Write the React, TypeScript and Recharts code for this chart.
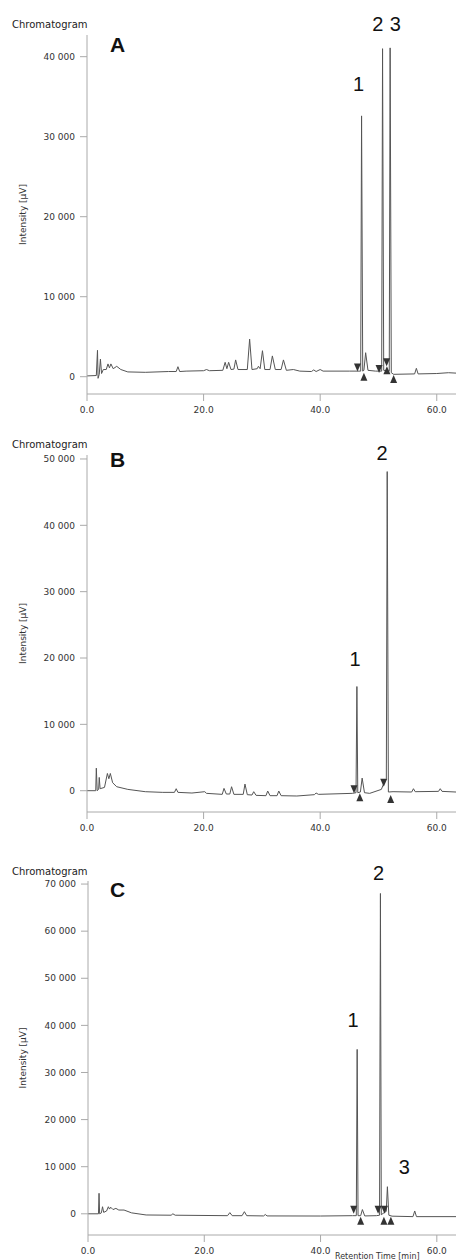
import React from "react";
import { ComposedChart, Line, Scatter, XAxis, YAxis, ReferenceDot } from "recharts";

type Pt = { t: number; v: number };
const pts = (rows: number[][]): Pt[] => rows.map(([t, v]) => ({ t, v }));

// retention time axis
const timeTicks = [0, 20, 40, 60];
const timeMax = 63.3;

// ---- panel A
const ticksA = [0, 10000, 20000, 30000, 40000];
const traceA = pts([
  [0, 100], [1.6, 150], [1.8, 3300], [1.9, -200], [2.1, 300], [2.3, 2200], [2.5, 400],
  [2.8, 900], [3.3, 900], [3.6, 1600], [3.85, 1100], [4.1, 1600], [4.5, 1000], [5.1, 1300],
  [5.8, 900], [7, 600], [10, 550], [14, 650], [15.3, 650], [15.6, 1250], [15.9, 650],
  [17, 700], [20, 750], [20.5, 900], [21, 750], [23.3, 800], [23.7, 1800], [24.0, 1000],
  [24.3, 1800], [24.7, 900], [25.2, 950], [25.5, 2100], [25.9, 900], [27.5, 900], [27.9, 4700],
  [28.3, 900], [29.2, 1000], [29.4, 1300], [29.7, 1000], [30.1, 3250], [30.5, 900], [31.4, 900],
  [31.8, 2600], [32.3, 900], [33.3, 900], [33.7, 2100], [34.2, 800], [35.4, 900], [36.5, 700],
  [38.5, 650], [38.9, 850], [39.3, 650], [40.0, 900], [40.5, 700], [45, 700], [46.95, 700],
  [47.1, 32600], [47.3, 700], [47.5, 800], [47.8, 3000], [48.2, 800], [49.5, 700], [50.55, 700],
  [50.7, 41000], [50.9, 800], [51.85, 700], [52.0, 41100], [52.2, 500], [52.6, 300],
  [56.2, 350], [56.5, 1050], [56.8, 350], [60, 400], [62, 500], [63.3, 450],
]);
const startsA = pts([[46.4, 650], [50.1, 460], [51.4, 1300]]);
const endsA = pts([[47.5, 500], [51.45, 1300], [52.6, 200]]);
const labelsA = [
  { t: 46.6, v: 36600, text: "1" },
  { t: 49.9, v: 44100, text: "2" },
  { t: 52.9, v: 44100, text: "3" },
];

// ---- panel B
const ticksB = [0, 10000, 20000, 30000, 40000, 50000];
const traceB = pts([
  [0, 0], [1.5, 0], [1.6, 3400], [1.75, 0], [2.0, 200], [2.1, 2000], [2.25, 300], [3.0, 500],
  [3.5, 2600], [3.75, 1800], [4.0, 2600], [4.4, 1200], [5.1, 600], [7, 200], [10, -150],
  [13, -250], [15.0, -250], [15.3, 300], [15.6, -250], [18, -350], [20.2, -150], [20.5, -400],
  [23.2, -550], [23.5, 350], [23.9, -500], [24.5, -500], [24.8, 600], [25.2, -550], [26.8, -550],
  [27.1, 1000], [27.5, -600], [28.3, -650], [28.6, -150], [29.0, -700], [30.7, -750], [31.0, -50],
  [31.4, -750], [32.6, -750], [32.9, -50], [33.3, -750], [36, -800], [39, -600], [39.3, -350],
  [39.7, -550], [45.5, -400], [46.15, -300], [46.3, 15700], [46.45, -300], [46.9, -200],
  [47.2, 1900], [47.6, -300], [48.5, -400], [50.5, 200], [51.0, 1300], [51.35, 1800],
  [51.5, 48100], [51.7, -200], [52.5, -150], [55.7, -200], [56, 300], [56.3, -150],
  [60.3, -100], [60.6, 300], [60.9, -100], [63.3, -200],
]);
const startsB = pts([[45.8, -400], [50.9, 600]]);
const endsB = pts([[46.8, -400], [52.1, -650]]);
const labelsB = [
  { t: 46.0, v: 19900, text: "1" },
  { t: 50.6, v: 50900, text: "2" },
];

// ---- panel C
const ticksC = [0, 10000, 20000, 30000, 40000, 50000, 60000, 70000];
const traceC = pts([
  [0, 0], [1.8, 0], [1.9, 4350], [2.0, 0], [2.3, 200], [2.5, 1500], [2.7, 300], [3.2, 600],
  [3.5, 1500], [3.7, 1000], [3.9, 1400], [4.3, 900], [4.8, 1150], [5.3, 800], [6.2, 800],
  [7.5, 200], [10, -250], [14.3, -300], [14.6, 0], [15, -300], [24.0, -400], [24.4, 250],
  [24.8, -400], [26.5, -400], [26.9, 450], [27.3, -400], [30.2, -450], [30.5, -150],
  [30.8, -450], [40, -470], [45.5, -400], [46.15, -400], [46.3, 34900], [46.45, -400],
  [46.9, -400], [47.2, 900], [47.6, -450], [49.6, -400], [50.15, -300], [50.3, 68000],
  [50.45, -200], [51.0, 300], [51.3, 500], [51.5, 5750], [51.75, -300], [52.3, -500],
  [55.9, -600], [56.2, 600], [56.5, -600], [63.3, -600],
]);
const startsC = pts([[45.7, 0], [49.9, 0], [51.0, 0]]);
const endsC = pts([[46.9, -600], [50.9, -600], [52.1, -600]]);
const labelsC = [
  { t: 45.6, v: 41100, text: "1" },
  { t: 50.0, v: 72300, text: "2" },
  { t: 54.4, v: 10000, text: "3" },
];

const TICK_FONT = { fill: "#333", fontSize: 9, fontFamily: "DejaVu Sans" };
const AXIS = "#aaa";
const TRACE = "#555";

const fmtTime = (v: number) => v.toFixed(1);
const fmtInt = (v: number) => (v === 0 ? "0" : `${v / 1000} 000`);

const DownTri = (p: any) => (
  <polygon
    points={`${p.cx - 3.5},${p.cy - 8} ${p.cx + 3.5},${p.cy - 8} ${p.cx},${p.cy}`}
    fill="#333"
  />
);
const UpTri = (p: any) => (
  <polygon
    points={`${p.cx - 3.5},${p.cy + 8} ${p.cx + 3.5},${p.cy + 8} ${p.cx},${p.cy}`}
    fill="#333"
  />
);

// axis title tucked between the 40.0 and 60.0 ticks at the bottom edge
const RetentionLabel = ({ viewBox }: any) => (
  <text
    x={viewBox.x + viewBox.width - 121}
    y={viewBox.y + viewBox.height - 1}
    fontSize={8}
    fontFamily="DejaVu Sans"
    fill="#333"
  >
    Retention Time [min]
  </text>
);

type PanelProps = {
  top: number;
  height: number;
  marginTop: number;
  left: number;
  xHeight: number;
  letter: string;
  titleTop: number;
  letterTop: number;
  domain: [number, number];
  ticks: number[];
  trace: Pt[];
  starts: Pt[];
  ends: Pt[];
  labels: { t: number; v: number; text: string }[];
  showTimeLabel?: boolean;
};

function Panel(p: PanelProps) {
  return (
    <div style={{ position: "absolute", left: 0, top: p.top, width: 456, height: p.height }}>
      <ComposedChart
        width={456}
        height={p.height}
        margin={{ top: p.marginTop, right: 0, left: 0, bottom: 0 }}
      >
        <XAxis
          type="number"
          dataKey="t"
          domain={[0, timeMax]}
          ticks={timeTicks}
          tickFormatter={fmtTime}
          allowDataOverflow
          height={p.xHeight}
          stroke={AXIS}
          tickSize={7}
          tickMargin={6}
          tick={TICK_FONT}
          label={p.showTimeLabel ? <RetentionLabel /> : undefined}
        />
        <YAxis
          type="number"
          domain={p.domain}
          ticks={p.ticks}
          tickFormatter={fmtInt}
          allowDataOverflow
          width={p.left}
          stroke={AXIS}
          tickSize={7}
          tickMargin={5}
          tick={TICK_FONT}
          label={{
            value: "Intensity [μV]",
            angle: -90,
            position: "insideLeft",
            offset: 23,
            style: { textAnchor: "middle", fontSize: 9, fontFamily: "DejaVu Sans", fill: "#333" },
          }}
        />
        <Line
          data={p.trace}
          dataKey="v"
          type="linear"
          stroke={TRACE}
          strokeWidth={1}
          dot={false}
          activeDot={false}
          isAnimationActive={false}
        />
        <Scatter data={p.starts} dataKey="v" shape={DownTri} isAnimationActive={false} />
        <Scatter data={p.ends} dataKey="v" shape={UpTri} isAnimationActive={false} />
        {p.labels.map((l) => (
          <ReferenceDot
            key={l.text}
            x={l.t}
            y={l.v}
            r={1}
            fill="none"
            stroke="none"
            ifOverflow="visible"
            label={{
              value: l.text,
              position: "center",
              fontSize: 20,
              fontFamily: "Liberation Sans",
              fill: "#111",
            }}
          />
        ))}
      </ComposedChart>
      <div
        style={{
          position: "absolute",
          left: 12,
          top: p.titleTop,
          fontFamily: "DejaVu Sans",
          fontSize: 10,
          lineHeight: 1,
          color: "#222",
        }}
      >
        Chromatogram
      </div>
      <div
        style={{
          position: "absolute",
          left: 110,
          top: p.letterTop,
          fontFamily: "Liberation Sans",
          fontWeight: "bold",
          fontSize: 21,
          lineHeight: 1,
          color: "#111",
        }}
      >
        {p.letter}
      </div>
    </div>
  );
}

export default function App() {
  return (
    <div
      style={{
        position: "absolute",
        left: 0,
        top: 0,
        width: 456,
        height: 1260,
        background: "#fff",
        overflow: "hidden",
      }}
    >
      <Panel
        top={0}
        height={420}
        marginTop={35}
        left={87}
        xHeight={26}
        letter="A"
        titleTop={20}
        letterTop={34}
        domain={[-2160, 42710]}
        ticks={ticksA}
        trace={traceA}
        starts={startsA}
        ends={endsA}
        labels={labelsA}
      />
      <Panel
        top={420}
        height={418}
        marginTop={35}
        left={87}
        xHeight={26}
        letter="B"
        titleTop={20}
        letterTop={29}
        domain={[-3210, 50600]}
        ticks={ticksB}
        trace={traceB}
        starts={startsB}
        ends={endsB}
        labels={labelsB}
      />
      <Panel
        top={838}
        height={422}
        marginTop={43}
        left={88}
        xHeight={25}
        letter="C"
        titleTop={29}
        letterTop={41}
        domain={[-4500, 70650]}
        ticks={ticksC}
        trace={traceC}
        starts={startsC}
        ends={endsC}
        labels={labelsC}
        showTimeLabel
      />
    </div>
  );
}
